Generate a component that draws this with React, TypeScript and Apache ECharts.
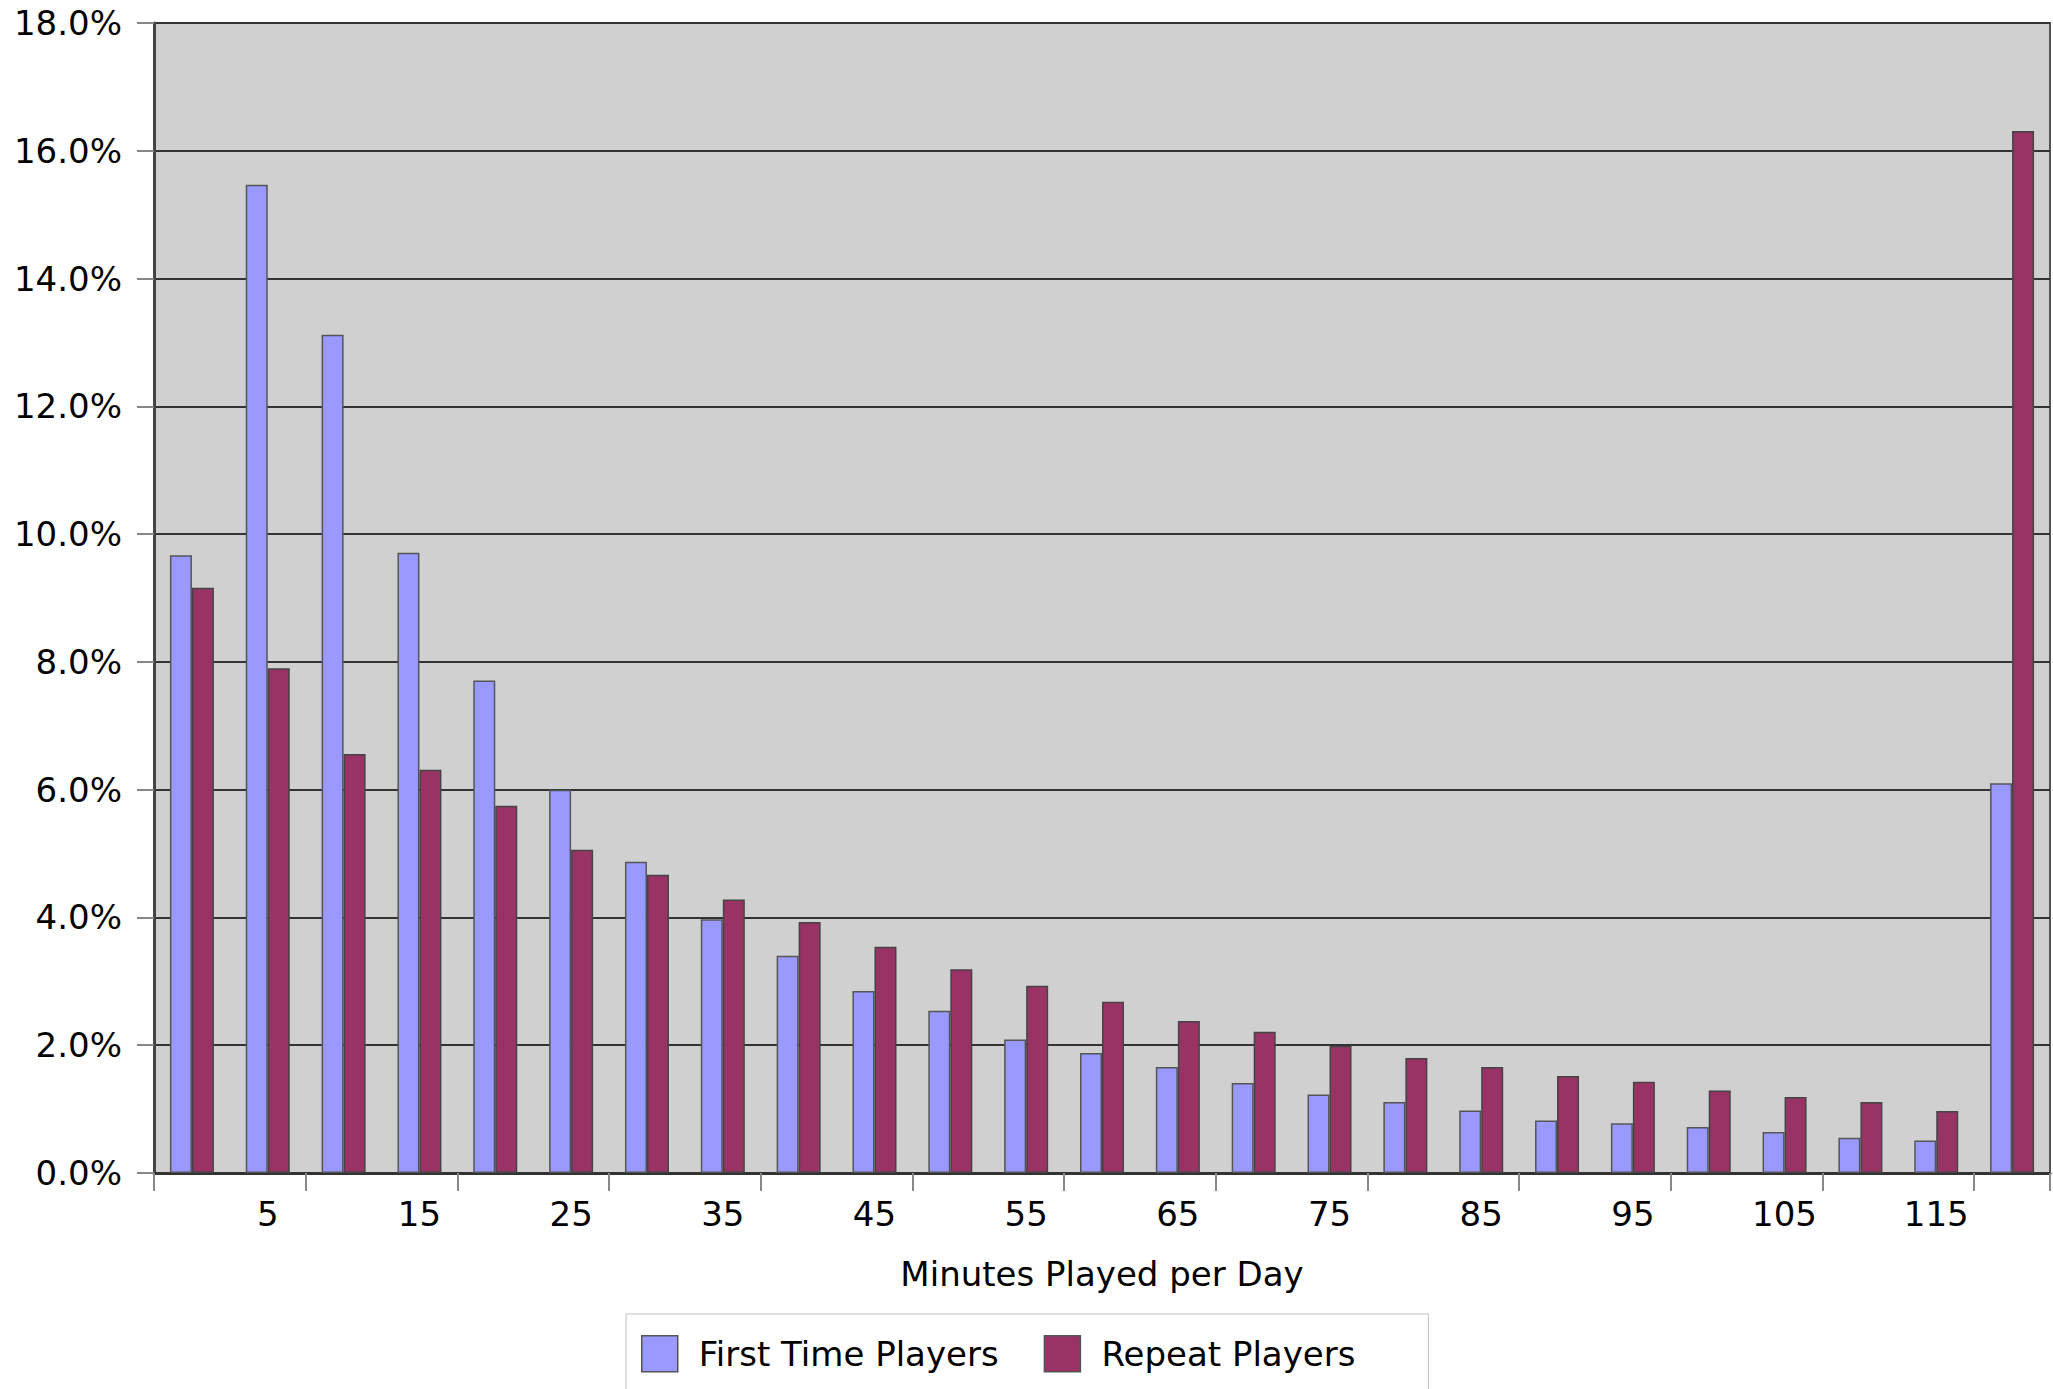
import React, { useEffect, useRef } from "react";
import * as echarts from "echarts";

const categories = ["0","5","10","15","20","25","30","35","40","45","50","55","60","65","70","75","80","85","90","95","100","105","110","115","120"];
const firstTime = [9.67,15.47,13.12,9.71,7.71,6.0,4.87,3.97,3.4,2.85,2.54,2.09,1.88,1.66,1.41,1.23,1.11,0.98,0.82,0.78,0.72,0.64,0.55,0.51,6.1];
const repeat = [9.16,7.9,6.56,6.31,5.75,5.06,4.67,4.28,3.93,3.54,3.19,2.93,2.68,2.38,2.21,1.99,1.8,1.66,1.52,1.43,1.29,1.19,1.11,0.97,16.31];
const yTicks = { min: 0, max: 18, interval: 2 };

export default function App() {
  const ref = useRef<HTMLDivElement>(null);
  useEffect(() => {
    if (!ref.current) return;
    const chart = echarts.init(ref.current, null, { renderer: "svg" });
    const font = "DejaVu Sans";
    const fs = 34;
    chart.setOption({
      animation: false,
      textStyle: { fontFamily: font },
      grid: {
        left: 154, top: 23, right: 3, bottom: 216,
        show: true, backgroundColor: "#d0d0d0", borderColor: "#555", borderWidth: 2,
      },
      legend: {
        left: 626, top: 1314,
        padding: [21, 73, 30, 15],
        backgroundColor: "#fff",
        borderColor: "#c0c0c0", borderWidth: 1,
        icon: "rect", itemWidth: 36, itemHeight: 36, itemGap: 45,
        itemStyle: { borderColor: "#555", borderWidth: 1.5 },
        textStyle: { fontSize: fs, color: "#000", fontFamily: font, padding: [0, 0, 0, 16] },
        data: ["First Time Players", "Repeat Players"],
      },
      xAxis: {
        type: "category",
        data: categories,
        boundaryGap: true,
        name: "Minutes Played per Day",
        nameLocation: "middle",
        nameGap: 84,
        nameTextStyle: { fontSize: fs, color: "#000", fontFamily: font },
        axisLine: { show: true, lineStyle: { color: "#333", width: 3 } },
        axisTick: { show: true, length: 18, interval: (i: number) => i % 2 === 0, lineStyle: { color: "#888", width: 2 } },
        axisLabel: { interval: (i: number) => i % 2 === 1, fontSize: fs, color: "#000", margin: 24 },
        splitLine: { show: false },
      },
      yAxis: {
        type: "value",
        min: yTicks.min, max: yTicks.max, interval: yTicks.interval,
        axisLine: { show: true, lineStyle: { color: "#444", width: 3 } },
        axisTick: { show: true, length: 17, lineStyle: { color: "#888", width: 2 } },
        axisLabel: { fontSize: fs, color: "#000", margin: 32, formatter: (v: number) => v.toFixed(1) + "%" },
        splitLine: { show: true, lineStyle: { color: "#333", width: 2 } },
      },
      series: [
        {
          name: "First Time Players", type: "bar", data: firstTime,
          barWidth: 22, barGap: "0%",
          itemStyle: { color: "#9999ff", borderColor: "#555", borderWidth: 1.5 },
        },
        {
          name: "Repeat Players", type: "bar", data: repeat,
          barWidth: 22, barGap: "0%",
          itemStyle: { color: "#993366", borderColor: "#444", borderWidth: 1.5 },
        },
      ],
    });
    return () => chart.dispose();
  }, []);
  return <div ref={ref} style={{ position: "fixed", left: 0, top: 0, width: 2053, height: 1389, background: "#fff" }} />;
}
